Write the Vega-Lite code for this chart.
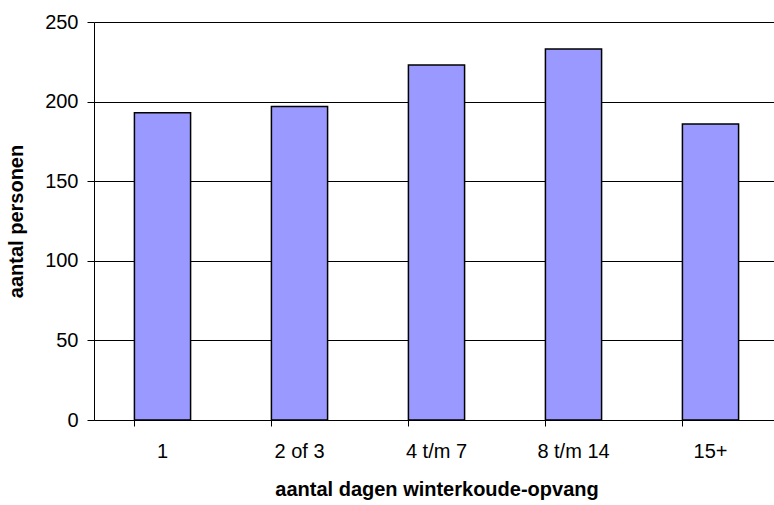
{
  "$schema": "https://vega.github.io/schema/vega-lite/v6.json",
  "autosize": "none",
  "width": 680,
  "height": 398,
  "padding": {"left": 94, "top": 22, "right": 0, "bottom": 85},
  "background": "white",
  "config": {
    "view": {"stroke": null},
    "font": "Liberation Sans"
  },
  "data": {
    "values": [
      {"cat": "1", "n": 193},
      {"cat": "2 of 3", "n": 197},
      {"cat": "4 t/m 7", "n": 223},
      {"cat": "8 t/m 14", "n": 233},
      {"cat": "15+", "n": 186}
    ]
  },
  "mark": {"type": "bar", "color": "#9999ff", "stroke": "black", "strokeWidth": 1.5},
  "encoding": {
    "x": {
      "field": "cat",
      "type": "nominal",
      "sort": null,
      "scale": {"range": [0, 685], "paddingInner": 0.59, "paddingOuter": 0.295},
      "axis": {
        "title": "aantal dagen winterkoude-opvang",
        "titleFont": "Liberation Sans",
        "titleFontSize": 20,
        "titleFontWeight": "bold",
        "titleColor": "black",
        "titlePadding": 18,
        "labelAngle": 0,
        "labelFontSize": 20,
        "labelColor": "black",
        "labelPadding": 15,
        "bandPosition": 0,
        "tickSize": 6,
        "tickColor": "black",
        "domainColor": "black",
        "grid": false
      }
    },
    "y": {
      "field": "n",
      "type": "quantitative",
      "scale": {"domain": [0, 250]},
      "axis": {
        "title": "aantal personen",
        "titleFont": "Liberation Sans",
        "titleFontSize": 20,
        "titleFontWeight": "bold",
        "titleColor": "black",
        "titlePadding": 18,
        "values": [0, 50, 100, 150, 200, 250],
        "labelFontSize": 20,
        "labelColor": "black",
        "labelPadding": 9,
        "tickSize": 7,
        "tickColor": "black",
        "domainColor": "black",
        "gridColor": "black",
        "gridOpacity": 1,
        "grid": true
      }
    }
  }
}
